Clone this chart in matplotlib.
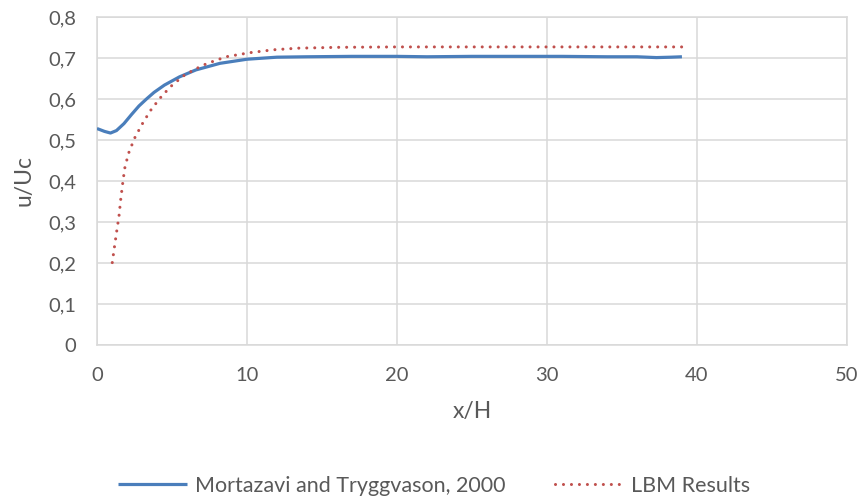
import matplotlib
matplotlib.use("Agg")
import matplotlib.pyplot as plt
from matplotlib.ticker import FuncFormatter

# Mortazavi and Tryggvason, 2000
ref_x = [0, 0.5, 0.9, 1.3, 1.8, 2.3, 2.8, 3.3, 3.8, 4.5, 5.5, 6.6, 8.2, 10, 12,
         14, 17, 20, 22, 25, 28, 31, 34, 36, 37.3, 38.3, 39]
ref_y = [0.528, 0.521, 0.517, 0.523, 0.540, 0.562, 0.583, 0.600, 0.616, 0.634,
         0.654, 0.671, 0.687, 0.697, 0.702, 0.703, 0.704, 0.704, 0.703, 0.704,
         0.704, 0.704, 0.703, 0.703, 0.701, 0.702, 0.703]

# LBM results
lbm_x = [1.02, 1.16, 1.31, 1.47, 1.58, 1.71, 1.85, 2.1, 2.5, 3.0, 3.55, 4.2,
         4.9, 5.75, 6.5, 7.3, 8.6, 10.2, 11.75, 13.4, 16, 20, 25, 30, 35, 39]
lbm_y = [0.201, 0.238, 0.276, 0.315, 0.354, 0.393, 0.431, 0.467, 0.504, 0.538,
         0.571, 0.602, 0.630, 0.656, 0.672, 0.686, 0.703, 0.713, 0.720, 0.724,
         0.726, 0.727, 0.727, 0.727, 0.727, 0.727]

x_ticks = [0, 10, 20, 30, 40, 50]
y_ticks = [0, 0.1, 0.2, 0.3, 0.4, 0.5, 0.6, 0.7, 0.8]

plt.rcParams['font.family'] = ['Lato', 'DejaVu Sans']
txt = '#595959'
grid_c = '#d9d9d9'

fig = plt.figure(figsize=(8.62, 5.0), dpi=100)
ax = fig.add_axes([0.1125, 0.31, 0.87, 0.656])

ax.plot(ref_x, ref_y, color='#4a7ebb', lw=2.3, label='Mortazavi and Tryggvason, 2000',
        solid_capstyle='butt', solid_joinstyle='round', zorder=3)
ax.plot(lbm_x, lbm_y, color='#c0504d', lw=2.2, linestyle=(0, (0.01, 2.6)),
        dash_capstyle='round', label='LBM Results', zorder=3)

ax.set_xlim(0, 50)
ax.set_ylim(0, 0.8)
ax.set_xticks(x_ticks)
ax.set_yticks(y_ticks)
ax.yaxis.set_major_formatter(FuncFormatter(lambda v, p: ('%g' % round(v, 2)).replace('.', ',')))
ax.grid(True, color=grid_c, lw=1.1)
ax.set_axisbelow(True)
for s in ax.spines.values():
    s.set_color(grid_c)
    s.set_linewidth(1.1)
ax.tick_params(length=0, labelsize=14.5, labelcolor=txt)
ax.tick_params(axis='y', pad=15)
ax.tick_params(axis='x', pad=16)

ax.set_xlabel('x/H', fontsize=16.5, color=txt, labelpad=12)
ax.set_ylabel('u/Uc', fontsize=16.5, color=txt, labelpad=10)

fig.legend(loc='center', bbox_to_anchor=(0.504, 0.028), ncol=2, frameon=False,
           fontsize=15.5, labelcolor=txt, handlelength=3.2, columnspacing=2.3,
           handletextpad=0.35)

fig.savefig('out.png', dpi=100)
